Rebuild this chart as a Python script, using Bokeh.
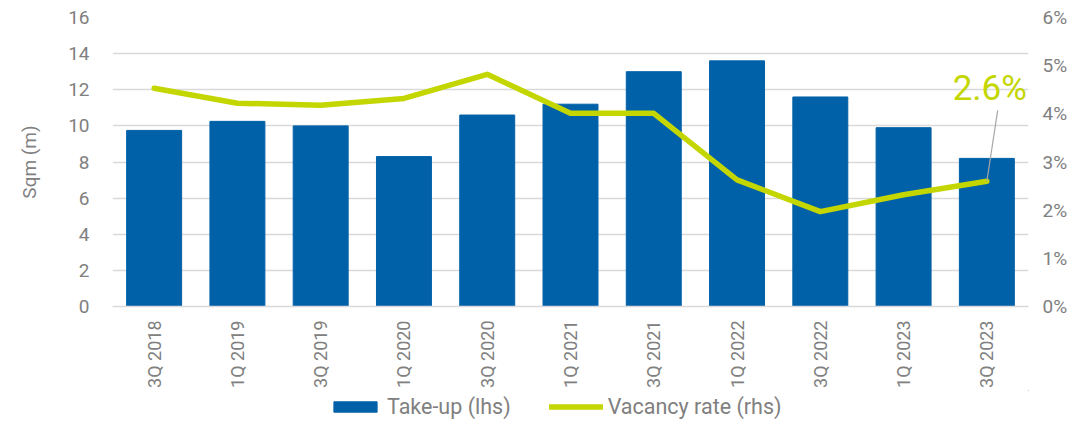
from bokeh.plotting import figure
from bokeh.models import Range1d, LinearAxis, NumeralTickFormatter, Legend, LegendItem, ColumnDataSource, FixedTicker, Label
from bokeh.layouts import column
from bokeh.embed import file_html
from bokeh.resources import INLINE
import math

quarters = ["3Q 2018", "1Q 2019", "3Q 2019", "1Q 2020", "3Q 2020", "1Q 2021",
            "3Q 2021", "1Q 2022", "3Q 2022", "1Q 2023", "3Q 2023"]
take_up = [9.75, 10.25, 10.0, 8.3, 10.6, 11.2, 13.0, 13.6, 11.6, 9.9, 8.2]
vacancy = [0.0453, 0.0422, 0.0418, 0.0432, 0.0482, 0.0401, 0.0401, 0.0263, 0.0197, 0.0232, 0.026]
left_ticks = [0, 2, 4, 6, 8, 10, 12, 14, 16]
right_ticks = [0, 0.01, 0.02, 0.03, 0.04, 0.05, 0.06]
callout_text = "2.6%"
series_names = ["Take-up (lhs)", "Vacancy rate (rhs)"]

BLUE = "#0061A8"
GREEN = "#C4D600"
GREY = "#808080"
FONT = "Roboto"

p = figure(x_range=quarters, y_range=Range1d(0, 16), width=1070, height=390,
           output_backend="svg", toolbar_location=None,
           min_border_left=112, min_border_right=40, min_border_top=17, min_border_bottom=83)
p.outline_line_color = None
p.extra_y_ranges = {"vac": Range1d(0, 0.06)}

src = ColumnDataSource(dict(q=quarters, t=take_up, v=vacancy))
bars = p.vbar(x="q", top="t", width=0.66, source=src, color=BLUE)
line = p.line(x="q", y="v", source=src, y_range_name="vac", color=GREEN, line_width=5.5,
              line_cap="round", line_join="round")

# callout
last = quarters[-1]
p.segment(x0=[last], y0=[vacancy[-1]], x1=[(last, 0.13)], y1=[0.0407], y_range_name="vac",
          line_color="#A6A6A6", line_width=1.2)
# synthetic coordinate of the last category's centre; right-aligned so it stays inside the frame
last_pos = quarters.index(last) + 0.5
p.add_layout(Label(x=last_pos, y=0.0453, text=callout_text, y_range_name="vac", x_offset=40,
                   text_align="right", text_baseline="alphabetic", text_color=GREEN,
                   text_font=FONT, text_font_size="35px", text_font_style="normal"))

# axes styling
ax = p.yaxis[0]
ax.ticker = FixedTicker(ticks=left_ticks)
ax.axis_label = "Sqm (m)"
ax.axis_label_text_font = FONT
ax.axis_label_text_font_size = "19px"
ax.axis_label_text_font_style = "normal"
ax.axis_label_text_color = GREY
ax.axis_label_standoff = 24

rax = LinearAxis(y_range_name="vac", ticker=FixedTicker(ticks=right_ticks),
                 formatter=NumeralTickFormatter(format="0%"))
p.add_layout(rax, "right")

for a in [ax, rax]:
    a.axis_line_color = None
    a.major_tick_line_color = None
    a.minor_tick_line_color = None
    a.major_label_text_font = FONT
    a.major_label_text_font_size = "19px"
    a.major_label_text_color = GREY
ax.major_label_standoff = 17
rax.major_label_standoff = 8

xa = p.xaxis[0]
xa.axis_line_color = "#D9D9D9"
xa.axis_line_width = 1.5
xa.major_tick_line_color = None
xa.major_label_orientation = math.pi / 2
xa.major_label_text_font = FONT
xa.major_label_text_font_size = "18px"
xa.major_label_text_color = GREY
xa.major_label_standoff = 8

p.xgrid.grid_line_color = None
p.ygrid.ticker = FixedTicker(ticks=left_ticks)
p.ygrid.grid_line_color = "#D9D9D9"
p.ygrid.grid_line_width = 1.5

# legend strip (separate figure so the legend is not clipped)
lg = figure(width=1070, height=30, output_backend="svg", toolbar_location=None,
            x_range=Range1d(0, 1), y_range=Range1d(0, 1),
            x_axis_location=None, y_axis_location=None,
            min_border_left=0, min_border_right=0, min_border_top=0, min_border_bottom=0)
lg.outline_line_color = None
lg.grid.visible = False
# renderers exist only for the legend swatches; their data lie outside the visible range
r_bar = lg.vbar(x=[5], top=[5], bottom=[4], width=0.5, color=BLUE)
r_line = lg.line(x=[5, 6], y=[5, 5], color=GREEN, line_width=5.5, line_cap="round")

legend = Legend(items=[LegendItem(label=series_names[0], renderers=[r_bar]),
                       LegendItem(label=series_names[1], renderers=[r_line])],
                orientation="horizontal", location=(216, 1),
                glyph_width=54, glyph_height=13, label_standoff=5, spacing=38,
                padding=0, margin=0, border_line_color=None, background_fill_alpha=0,
                label_text_font=FONT, label_text_font_size="21.5px", label_text_color=GREY,
                label_height=18)
lg.add_layout(legend, "center")

open("out.html", "w").write(file_html(column(p, lg, spacing=0), INLINE))
